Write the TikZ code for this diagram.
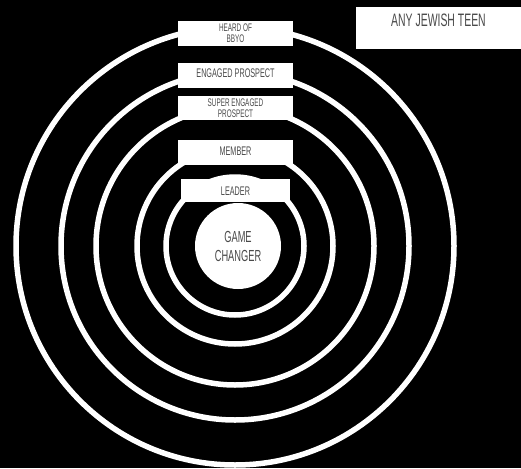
\documentclass[tikz,border=0pt]{standalone}
\usepackage{fontspec}
\setmainfont{Liberation Sans}[FakeStretch=0.58]
\definecolor{txtgray}{HTML}{4A4A4A}
\tikzset{
  ring/.style={draw=white, line width=5.5pt},
  lbl/.style={fill=white, text=txtgray, minimum width=115pt, inner xsep=0pt, inner ysep=0pt,
              text height=15pt, text depth=10pt, anchor=base, font=\fontsize{12.5}{12.5}\selectfont},
  lbltwo/.style={fill=white, text=txtgray, minimum width=115pt, minimum height=25pt, inner sep=0pt,
              align=center},
}
\begin{document}
\begin{tikzpicture}[x=1pt,y=-1pt]
\fill[black] (0,0) rectangle (521,468);
\useasboundingbox (0,0) rectangle (521,468);
\coordinate (c) at (235,246);
\draw[ring] (c) circle[radius=219pt];
\draw[ring] (c) circle[radius=174pt];
\draw[ring] (c) circle[radius=139pt];
\draw[ring] (c) circle[radius=98pt];
\draw[ring] (c) circle[radius=69pt];
\node[circle, fill=white, minimum size=86pt, inner sep=0pt, text=txtgray, align=center,
      font=\fontsize{16}{19}\selectfont] (gc) at (238,246) {GAME\\CHANGER};
\node[lbltwo, font=\fontsize{11}{11}\selectfont] (heard) at (235.5,33.5) {HEARD OF\\BBYO};
\node[lbl] (eng) at (235.5,78) {ENGAGED PROSPECT};
\node[lbltwo, font=\fontsize{11}{10.5}\selectfont, minimum height=24pt] (sup) at (235.5,108) {SUPER ENGAGED\\PROSPECT};
\node[lbl] (mem) at (235.5,155) {MEMBER};
\node[lbl, minimum width=109pt, text height=16pt, text depth=7pt] (lead) at (235.5,195) {LEADER};
\node[lbl, minimum width=165pt, text height=20pt, text depth=22pt, font=\fontsize{18}{18}\selectfont] (any) at (438.5,27) {ANY JEWISH TEEN};
\end{tikzpicture}
\end{document}
